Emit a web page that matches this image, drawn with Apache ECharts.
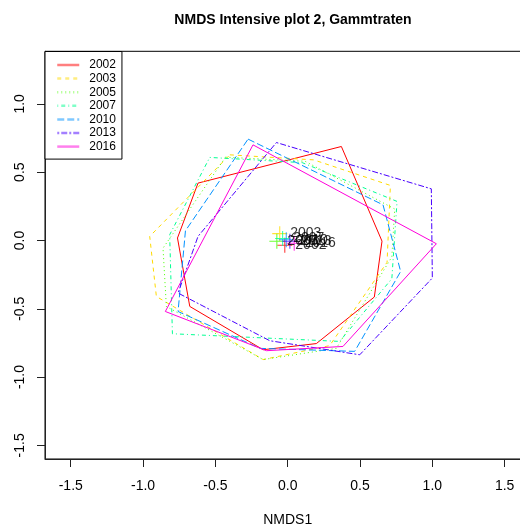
<!DOCTYPE html>
<html>
<head>
<meta charset="utf-8">
<script src="https://cdn.jsdelivr.net/npm/echarts@6/dist/echarts.min.js"></script>
<style>html,body{margin:0;padding:0;background:#fff}#c{width:520px;height:528px}</style>
</head>
<body>
<div id="c"></div>
<script>
// ---- data ----
const years = ['2002','2003','2005','2007','2010','2013','2016'];
const colors = ['#FF0000','#FFDB00','#49FF00','#00FF92','#0092FF','#4900FF','#FF00DB'];
const dashes = ['solid',[4,4],[1,3],[1,3,4,3],[7,3],[2,2,6,2],'solid'];
const xTicks = [-1.5,-1.0,-0.5,0.0,0.5,1.0,1.5];
const yTicks = [-1.5,-1.0,-0.5,0.0,0.5,1.0];

const hull2002 = [[0.371,0.688],[0.652,-0.005],[0.599,-0.414],[0.198,-0.755],[-0.17,-0.80],[-0.677,-0.483],[-0.762,0.018],[-0.620,0.420]];
const hull2003 = [[-0.40,0.627],[0.18,0.59],[0.710,0.403],[0.687,-0.16],[0.290,-0.770],[-0.17,-0.872],[-0.908,-0.41],[-0.954,0.03]];
const hull2005 = [[-0.43,0.61],[0.12,0.58],[0.74,0.23],[0.72,-0.12],[0.336,-0.79],[-0.17,-0.872],[-0.839,-0.483],[-0.862,-0.056]];
const hull2007 = [[-0.539,0.608],[0.10,0.57],[0.756,0.286],[0.72,-0.28],[0.359,-0.739],[-0.797,-0.683],[-0.816,0.042]];
const hull2010 = [[-0.274,0.742],[0.659,0.261],[0.781,-0.227],[0.463,-0.812],[-0.19,-0.79],[-0.758,-0.52],[-0.707,0.071]];
const hull2013 = [[-0.078,0.717],[0.993,0.378],[1.00,-0.275],[0.498,-0.837],[-0.124,-0.734],[-0.758,-0.385],[-0.620,0.03]];
const hull2016 = [[-0.240,0.70],[1.028,-0.024],[0.382,-0.776],[-0.147,-0.807],[-0.846,-0.520]];
const hulls = [hull2002,hull2003,hull2005,hull2007,hull2010,hull2013,hull2016];

const centX = [-0.02,-0.055,-0.075,-0.035,-0.01,0.015,0.045];
const centY = [-0.035,0.05,-0.005,0.015,0.005,-0.005,-0.02];

// ---- chart ----
const FONT = 'Liberation Sans, Arial, Helvetica, sans-serif';
const chart = echarts.init(document.getElementById('c'), null, {renderer:'canvas'});
const plusPath = 'path://M-0.07,-1H0.07V-0.07H1V0.07H0.07V1H-0.07V0.07H-1V-0.07H-0.07Z';

const series = hulls.map((h,i)=>({
  name: years[i], type:'line', symbol:'none', silent:true, animation:false,
  data: h.concat([h[0]]),
  lineStyle:{color:colors[i], width:1, type:dashes[i]},
  itemStyle:{color:colors[i]}, z:2
}));
series.push({
  name:'centroids', type:'scatter', animation:false, symbol:plusPath, symbolSize:15, z:3,
  data: years.map((y,i)=>({value:[centX[i],centY[i]], itemStyle:{color:colors[i]},
    label:{show:true, position:'right', distance:3, formatter:y, color:'#000', fontSize:14, fontFamily:FONT}}))
});

chart.setOption({
  backgroundColor:'#fff',
  animation:false,
  title:{text:'NMDS Intensive plot 2, Gammtraten', left:288, top:8, textAlign:'center',
    textStyle:{fontSize:14, fontWeight:'bold', fontFamily:FONT, color:'#000'}},
  grid:{left:45, top:51.3, right:-10.4, bottom:69, show:true, borderColor:'#000', borderWidth:1,
    containLabel:false, outerBoundsMode:'none'},
  legend:{
    data: years, orient:'vertical', left:45, top:51.5, selectedMode:false,
    borderColor:'#000', borderWidth:1, padding:[7,6,6,11], backgroundColor:'#fff',
    itemWidth:22, itemHeight:13, itemGap:0.6,
    itemStyle:{opacity:0},
    lineStyle:{width:2.5, opacity:0.5},
    textStyle:{fontSize:12, fontFamily:FONT, color:'#000', lineHeight:13, padding:[0,0,0,5]}
  },
  xAxis:{type:'value', min:-1.678, max:1.678, splitLine:{show:false},
    name:'NMDS1', nameLocation:'middle', nameGap:54,
    nameTextStyle:{fontSize:14, fontFamily:FONT, color:'#000'},
    axisLine:{show:true, onZero:false, lineStyle:{color:'#222'}},
    axisTick:{show:true, length:8, customValues:xTicks, lineStyle:{color:'#222'}},
    axisLabel:{customValues:xTicks, margin:20, fontSize:14, fontFamily:FONT, color:'#000', formatter:v=>v.toFixed(1)}
  },
  yAxis:{type:'value', min:-1.600, max:1.385, splitLine:{show:false},
    axisLine:{show:true, onZero:false, lineStyle:{color:'#222'}},
    axisTick:{show:true, length:8, customValues:yTicks, lineStyle:{color:'#222'}},
    axisLabel:{customValues:yTicks, rotate:90, margin:18, fontSize:14, fontFamily:FONT, color:'#000', formatter:v=>v.toFixed(1)}
  },
  series: series
});
</script>
</body>
</html>
